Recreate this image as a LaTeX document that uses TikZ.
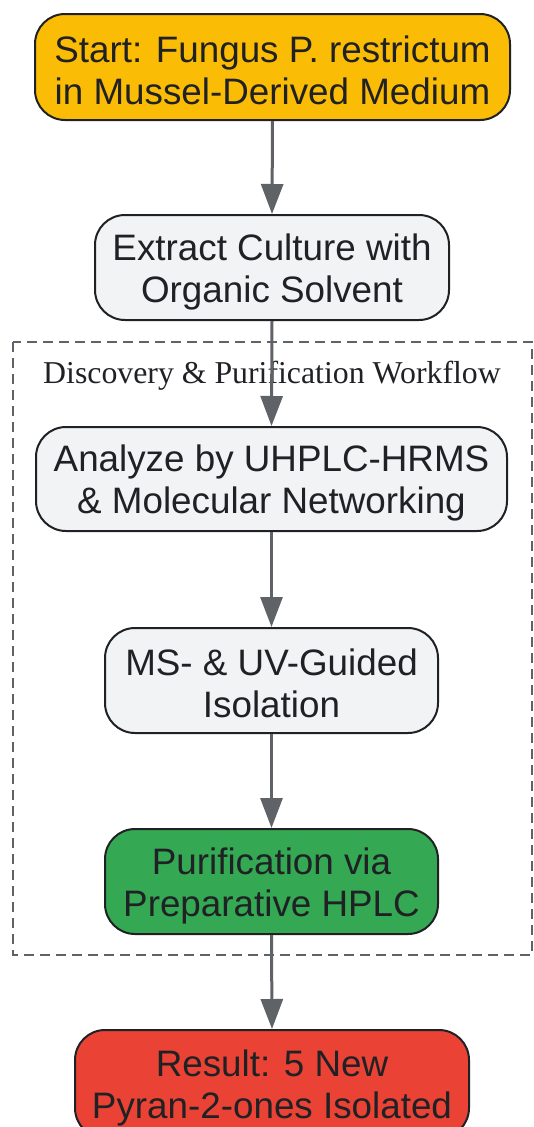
\documentclass[tikz,border=0pt]{standalone}
\usepackage{fontspec}
\setmainfont{Liberation Serif}
\newfontfamily\boxfont{Liberation Sans}
\usetikzlibrary{arrows.meta}
\definecolor{edgec}{HTML}{5F6368}
\definecolor{linec}{HTML}{202124}
\definecolor{greyf}{HTML}{F1F3F4}
\definecolor{yellowf}{HTML}{FBBC05}
\definecolor{greenf}{HTML}{34A853}
\definecolor{redf}{HTML}{EA4335}
\definecolor{clusterc}{HTML}{5F6368}
\tikzset{
  box/.style={draw=linec, line width=2pt, rounded corners=30pt, inner sep=0pt},
  boxtext/.style={align=center, font=\boxfont\fontsize{36.8}{42}\selectfont, text=linec, inner sep=0pt},
  flow/.style={draw=edgec, line width=3pt, -{Triangle[width=22pt,length=30pt]}},
}
\begin{document}
\begin{tikzpicture}[x=1pt,y=-1pt]
\useasboundingbox (0,0) rectangle (534,1127);
\clip (0,0) rectangle (534,1127);
\draw[clusterc, line width=2pt, dash pattern=on 10pt off 6pt] (13,342) rectangle (532,955);
\node[font=\fontsize{31.8}{36}\selectfont, text=linec] (lbl) at (272,376) {Discovery \& Purification Workflow};
\node[box, fill=yellowf, minimum width=475pt, minimum height=106pt] (start) at (272.5,67) {};
\node[boxtext] (startt) at ([yshift=-3pt]start.center) {Start: Fungus P. restrictum\\in Mussel-Derived Medium};
\node[box, fill=greyf, minimum width=354pt, minimum height=105pt] (extract) at (272,267.5) {};
\node[boxtext] (extractt) at ([yshift=-4pt]extract.center) {Extract Culture with\\Organic Solvent};
\node[box, fill=greyf, minimum width=471pt, minimum height=104pt] (analyze) at (271.5,479) {};
\node[boxtext] (analyzet) at ([yshift=-4pt]analyze.center) {Analyze by UHPLC-HRMS\\\& Molecular Networking};
\node[box, fill=greyf, minimum width=333pt, minimum height=105pt] (ms) at (271.5,680.5) {};
\node[boxtext] (mst) at ([yshift=-3pt]ms.center) {MS- \& UV-Guided\\Isolation};
\node[box, fill=greenf, minimum width=333pt, minimum height=105pt] (pur) at (271.5,881.5) {};
\node[boxtext] (purt) at ([yshift=-4pt]pur.center) {Purification via\\Preparative HPLC};
\node[box, fill=redf, minimum width=394pt, minimum height=108pt] (res) at (272,1084) {};
\node[boxtext] (rest) at ([yshift=-4pt]res.center) {Result: 5 New\\Pyran-2-ones Isolated};
\draw[flow] (start.south) -- (extract.north);
\draw[flow] (extract.south) -- (analyze.north);
\draw[flow] (analyze.south) -- (ms.north);
\draw[flow] (ms.south) -- (pur.north);
\draw[flow] (pur.south) -- (res.north);
\end{tikzpicture}
\end{document}
